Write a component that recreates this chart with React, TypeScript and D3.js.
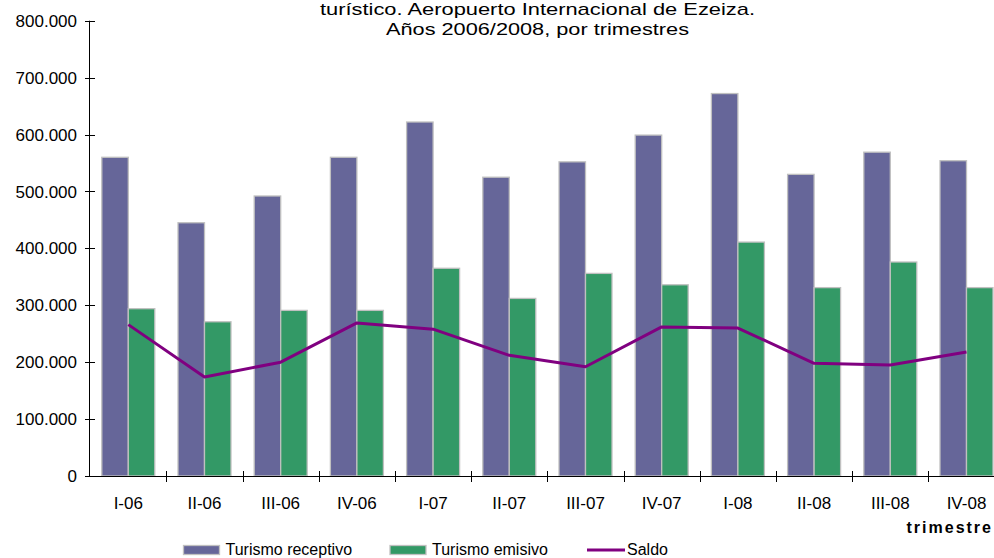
import * as d3 from 'd3';
import { useEffect, useRef } from 'react';

// datos
const trimestres = ['I-06', 'II-06', 'III-06', 'IV-06', 'I-07', 'II-07', 'III-07', 'IV-07', 'I-08', 'II-08', 'III-08', 'IV-08'];
const receptivo = [560000, 445000, 492000, 560000, 622000, 525000, 552000, 599000, 672000, 530000, 569000, 554000];
const emisivo = [294000, 271000, 291000, 291000, 365000, 312000, 356000, 336000, 411000, 331000, 376000, 331000];
const saldo = [266000, 174000, 200000, 269000, 258000, 212000, 192000, 262000, 260000, 198000, 195000, 218000];
const yTicks = [0, 100000, 200000, 300000, 400000, 500000, 600000, 700000, 800000];
const tituloLineas = ['turístico. Aeropuerto Internacional de Ezeiza.', 'Años 2006/2008, por trimestres'];
const leyenda = ['Turismo receptivo', 'Turismo emisivo', 'Saldo'];

const COLOR_REC = '#666699';
const COLOR_EMI = '#339966';
const COLOR_SALDO = '#800080';
const BORDE = '#c0c0c0';
const FONT = '"Liberation Sans", Arial, sans-serif';

export default function App() {
  const svgRef = useRef<SVGSVGElement | null>(null);

  useEffect(() => {
    if (!svgRef.current) return;
    const width = 994;
    const height = 558;
    const x0 = 90.2;
    const paso = 76.2; // ancho de cada trimestre
    const barW = 26.5;

    const svg = d3.select(svgRef.current);
    svg.selectAll('*').remove();
    svg.attr('width', width).attr('height', height).attr('font-family', FONT);

    const x = d3.scaleBand<string>().domain(trimestres).range([x0, x0 + paso * trimestres.length]);
    const y = d3.scaleLinear().domain([0, 800000]).range([476, 20.7]);
    const centro = (c: string) => x(c)! + x.bandwidth() / 2;
    const fmt = (v: number) => d3.format(',')(v).replace(/,/g, '.');

    // título (la primera línea queda fuera del recorte)
    svg.append('g')
      .selectAll('text')
      .data(tituloLineas)
      .join('text')
      .attr('x', 537.5)
      .attr('y', (_, i) => 15 + i * 20)
      .attr('text-anchor', 'middle')
      .attr('font-size', 17)
      .attr('textLength', (_, i) => (i === 0 ? 435 : 303))
      .attr('lengthAdjust', 'spacingAndGlyphs')
      .attr('fill', '#000')
      .text(d => d);

    // barras
    const barras = svg.append('g').attr('stroke', BORDE).attr('stroke-width', 1.3);
    barras.selectAll('rect.rec')
      .data(trimestres)
      .join('rect')
      .attr('class', 'rec')
      .attr('x', d => centro(d) - barW)
      .attr('y', (_, i) => y(receptivo[i]))
      .attr('width', barW)
      .attr('height', (_, i) => y(0) - y(receptivo[i]))
      .attr('fill', COLOR_REC);
    barras.selectAll('rect.emi')
      .data(trimestres)
      .join('rect')
      .attr('class', 'emi')
      .attr('x', d => centro(d))
      .attr('y', (_, i) => y(emisivo[i]))
      .attr('width', barW)
      .attr('height', (_, i) => y(0) - y(emisivo[i]))
      .attr('fill', COLOR_EMI);

    // línea de saldo
    const linea = d3.line<number>()
      .x((_, i) => centro(trimestres[i]))
      .y(d => y(d));
    svg.append('path')
      .attr('d', linea(saldo))
      .attr('fill', 'none')
      .attr('stroke', COLOR_SALDO)
      .attr('stroke-width', 3)
      .attr('stroke-linejoin', 'round');

    // ejes
    const ejes = svg.append('g').attr('stroke', '#000').attr('stroke-width', 1);
    ejes.append('line').attr('x1', 89.5).attr('x2', 89.5).attr('y1', y(800000)).attr('y2', y(0));
    ejes.append('line').attr('x1', 89.5).attr('x2', width).attr('y1', y(0) + 0.5).attr('y2', y(0) + 0.5);
    ejes.selectAll('line.ty')
      .data(yTicks)
      .join('line')
      .attr('class', 'ty')
      .attr('x1', 85).attr('x2', 95)
      .attr('y1', d => Math.round(y(d)) + 0.5)
      .attr('y2', d => Math.round(y(d)) + 0.5);
    ejes.selectAll('line.tx')
      .data(trimestres.slice(1))
      .join('line')
      .attr('class', 'tx')
      .attr('x1', d => Math.round(x(d)!) + 0.5)
      .attr('x2', d => Math.round(x(d)!) + 0.5)
      .attr('y1', 471).attr('y2', 482);

    svg.append('g')
      .selectAll('text')
      .data(yTicks)
      .join('text')
      .attr('x', 77)
      .attr('y', d => y(d))
      .attr('dy', '0.36em')
      .attr('text-anchor', 'end')
      .attr('font-size', 17)
      .text(d => fmt(d));

    svg.append('g')
      .selectAll('text')
      .data(trimestres)
      .join('text')
      .attr('x', d => centro(d))
      .attr('y', 509)
      .attr('text-anchor', 'middle')
      .attr('font-size', 17)
      .text(d => d);

    svg.append('text')
      .attr('x', 993)
      .attr('y', 533)
      .attr('text-anchor', 'end')
      .attr('font-size', 16)
      .attr('font-weight', 'bold')
      .attr('letter-spacing', 2)
      .text('trimestre');

    // leyenda
    const leg = svg.append('g').attr('font-size', 16);
    const swX = [183.5, 390];
    [COLOR_REC, COLOR_EMI].forEach((c, i) => {
      leg.append('rect')
        .attr('x', swX[i]).attr('y', 545.5)
        .attr('width', 36).attr('height', 9)
        .attr('fill', c).attr('stroke', BORDE).attr('stroke-width', 1.3);
      leg.append('text').attr('x', swX[i] + 42).attr('y', 555).text(leyenda[i]);
    });
    leg.append('line')
      .attr('x1', 587).attr('x2', 625).attr('y1', 550).attr('y2', 550)
      .attr('stroke', COLOR_SALDO).attr('stroke-width', 3);
    leg.append('text').attr('x', 627).attr('y', 555).text(leyenda[2]);
  }, []);

  return (
    <div style={{ position: 'absolute', left: 0, top: 0, background: '#fff' }}>
      <svg ref={svgRef} style={{ display: 'block' }} />
    </div>
  );
}
